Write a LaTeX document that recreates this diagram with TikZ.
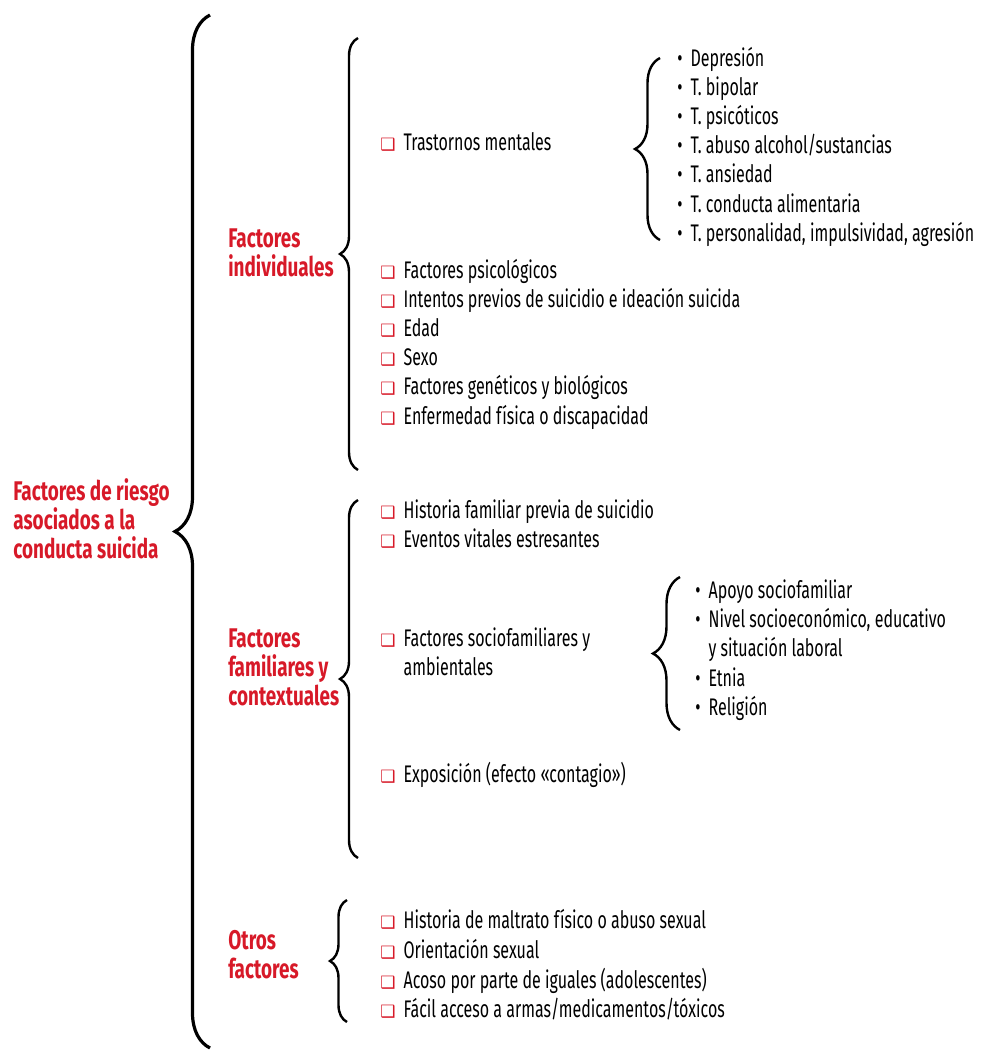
\documentclass[tikz,border=0pt]{standalone}
\usepackage{fontspec}
\setmainfont[FakeStretch=0.667]{Fira Sans}
\newfontfamily\hfont[FakeStretch=0.7]{Fira Sans}
\newfontfamily\symfont{DejaVu Sans}
\usetikzlibrary{decorations.pathreplacing}
\definecolor{rojo}{RGB}{215,25,40}
\tikzstyle{h} = [anchor=base west, align=left, inner sep=0pt, text=rojo, font=\hfont\fontsize{13.5}{14.5}\selectfont\bfseries]
\tikzstyle{it} = [anchor=base west, align=left, inner sep=0pt, font=\fontsize{12}{14.5}\selectfont]
\tikzstyle{brc} = [decorate, line width=1.2pt]
\newcommand{\sq}{{\symfont\color{rojo}\fontsize{8.5}{8.5}\selectfont ❑}\hspace{4pt}}
\newcommand{\bul}{•\hspace{4pt}}

\begin{document}
\begin{tikzpicture}[x=0.5pt,y=-0.5pt]
		\useasboundingbox (0,0) rectangle (983,1051);
		% titulos (base = ultima linea)
		\node[h](r0) at (13,558){Factores de riesgo\\asociados a la\\conducta suicida};
		\node[h](r1) at (228,276){Factores\\individuales};
		\node[h](r2) at (228,705){Factores\\familiares y\\contextuales};
		\node[h](r3) at (228,978){Otros\\factores};
		% factores individuales
		\node[it](1) at (380,150){\sq Trastornos mentales};
		\node[it](2) at (380,278){\sq Factores psicológicos};
		\node[it](3) at (380,307){\sq Intentos previos de suicidio e ideación suicida};
		\node[it](4) at (380,336){\sq Edad};
		\node[it](5) at (380,365){\sq Sexo};
		\node[it](6) at (380,394){\sq Factores genéticos y biológicos};
		\node[it](7) at (380,424){\sq Enfermedad física o discapacidad};
		\node[it](1a) at (677,66){\bul Depresión};
		\node[it](1b) at (677,95){\bul T. bipolar};
		\node[it](1c) at (677,124){\bul T. psicóticos};
		\node[it](1d) at (677,153){\bul T. abuso alcohol/sustancias};
		\node[it](1e) at (677,182){\bul T. ansiedad};
		\node[it](1f) at (677,212){\bul T. conducta alimentaria};
		\node[it](1g) at (677,241){\bul T. personalidad, impulsividad, agresión};
		% factores familiares
		\node[it](8) at (380,518){\sq Historia familiar previa de suicidio};
		\node[it](9) at (380,547){\sq Eventos vitales estresantes};
		\node[it](10) at (380,675){\sq Factores sociofamiliares y\\\phantom{\sq}ambientales};
		\node[it](11) at (380,782){\sq Exposición (efecto «contagio»)};
		\node[it](10a) at (695,598){\bul Apoyo sociofamiliar};
		\node[it](10b) at (695,656){\bul Nivel socioeconómico, educativo\\\phantom{\bul}y situación laboral};
		\node[it](10c) at (695,686){\bul Etnia};
		\node[it](10d) at (695,715){\bul Religión};
		% otros
		\node[it](12) at (380,928){\sq Historia de maltrato físico o abuso sexual};
		\node[it](13) at (380,958){\sq Orientación sexual};
		\node[it](14) at (380,988){\sq Acoso por parte de iguales (adolescentes)};
		\node[it](15) at (380,1017){\sq Fácil acceso a armas/medicamentos/tóxicos};
		% llaves
		\coordinate (b0t) at (210,15); \coordinate (b0b) at (210,1048);
		\coordinate (b1t) at (358,38); \coordinate (b1b) at (358,470);
		\coordinate (b2t) at (358,500); \coordinate (b2b) at (358,858);
		\coordinate (b3t) at (347,900); \coordinate (b3b) at (347,1022);
		\coordinate (b4t) at (660,58); \coordinate (b4b) at (660,240);
		\coordinate (b5t) at (680,577); \coordinate (b5b) at (680,730);
		\draw[brc,line width=1.6pt,decoration={brace,amplitude=17.5pt}] (b0b)--(b0t);
		\draw[brc,decoration={brace,amplitude=9pt}] (b1b)--(b1t);
		\draw[brc,decoration={brace,amplitude=9pt}] (b2b)--(b2t);
		\draw[brc,decoration={brace,amplitude=8.5pt}] (b3b)--(b3t);
		\draw[brc,decoration={brace,amplitude=12.5pt}] (b4b)--(b4t);
		\draw[brc,decoration={brace,amplitude=13.5pt}] (b5b)--(b5t);
\end{tikzpicture}
\end{document}
